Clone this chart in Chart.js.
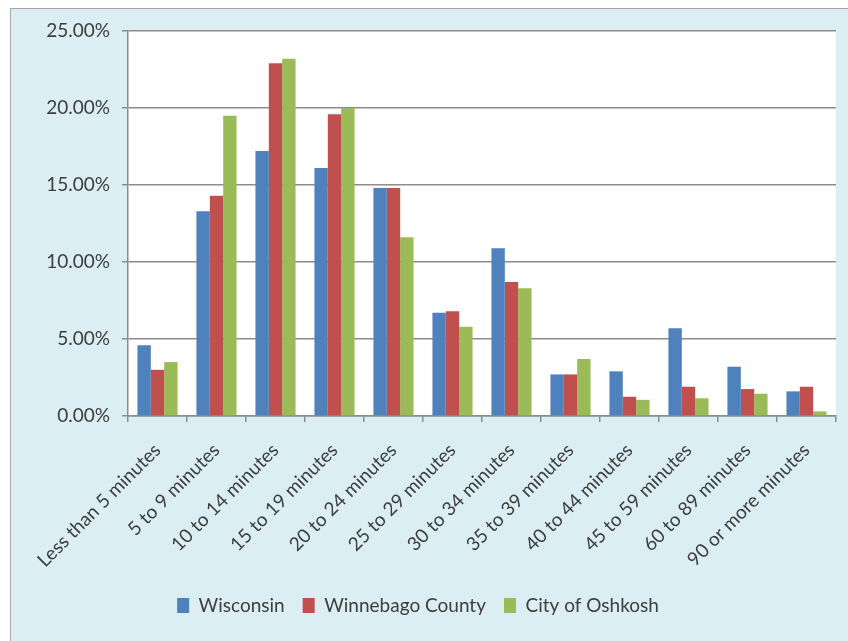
<!DOCTYPE html>
<html>
<head>
<meta charset="utf-8">
<script src="https://cdn.jsdelivr.net/npm/chart.js@4/dist/chart.umd.min.js"></script>
<style>
	html, body { margin: 0; padding: 0; background: #ffffff; }
	#frame {
		position: absolute;
		left: 10px;
		top: 8px;
		width: 860px;
		height: 660px;
		background: #dbeef4;
		border: 1px solid #a6a6a6;
	}
	#wrap { position: absolute; left: 0; top: 0; width: 848px; height: 641px; }
</style>
</head>
<body>
<div id="frame"></div>
<div id="wrap"><canvas id="chart"></canvas></div>
<script>
const categories = [
	'Less than 5 minutes', '5 to 9 minutes', '10 to 14 minutes', '15 to 19 minutes',
	'20 to 24 minutes', '25 to 29 minutes', '30 to 34 minutes', '35 to 39 minutes',
	'40 to 44 minutes', '45 to 59 minutes', '60 to 89 minutes', '90 or more minutes',
];
const wisconsin = [4.6, 13.3, 17.2, 16.1, 14.8, 6.7, 10.9, 2.7, 2.9, 5.7, 3.2, 1.6];
const winnebago = [3.0, 14.3, 22.9, 19.6, 14.8, 6.8, 8.7, 2.7, 1.25, 1.9, 1.75, 1.9];
const oshkosh = [3.5, 19.5, 23.2, 20.0, 11.6, 5.8, 8.3, 3.7, 1.05, 1.15, 1.45, 0.3];
const seriesNames = ['Wisconsin', 'Winnebago County', 'City of Oshkosh'];
const seriesColors = ['#4f81bd', '#c0504d', '#9bbb59'];

const textColor = '#3d3d3d';
const gridColor = '#8c8c8c';
const fontFamily = 'Lato, "Noto Sans", sans-serif';

const plotBackground = {
	id: 'plotBackground',
	beforeDraw(chart) {
		const { ctx, chartArea } = chart;
		ctx.save();
		ctx.fillStyle = '#ffffff';
		ctx.fillRect(chartArea.left, chartArea.top, chartArea.right - chartArea.left, chartArea.bottom - chartArea.top);
		ctx.restore();
	},
};

new Chart(document.getElementById('chart'), {
	type: 'bar',
	data: {
		labels: categories,
		datasets: [wisconsin, winnebago, oshkosh].map((values, i) => ({
			label: seriesNames[i],
			data: values,
			backgroundColor: seriesColors[i],
			borderWidth: 0,
			categoryPercentage: 0.68,
			barPercentage: 1,
		})),
	},
	options: {
		responsive: true,
		maintainAspectRatio: false,
		animation: false,
		layout: { padding: { left: 0, top: 31, right: 12, bottom: 16 } },
		plugins: {
			tooltip: { enabled: false },
			legend: {
				position: 'bottom',
				labels: {
					color: textColor,
					font: { family: fontFamily, size: 19 },
					boxWidth: 12,
					boxHeight: 15,
					padding: 18,
				},
			},
		},
		scales: {
			x: {
				afterFit(scale) { scale.height = 162; },
				grid: {
					drawOnChartArea: false,
					drawTicks: true,
					tickLength: 6,
					color: gridColor,
					lineWidth: 1.5,
				},
				border: { color: gridColor, width: 1.5 },
				ticks: {
					color: textColor,
					font: { family: fontFamily, size: 19 },
					padding: 17,
					minRotation: 45,
					maxRotation: 45,
					autoSkip: false,
				},
			},
			y: {
				min: 0,
				max: 25,
				afterFit(scale) { scale.width = 128; },
				grid: {
					color: gridColor,
					lineWidth: 1.5,
					drawTicks: true,
					tickLength: 6,
				},
				border: { color: gridColor, width: 1.5 },
				ticks: {
					stepSize: 5,
					color: textColor,
					font: { family: fontFamily, size: 19 },
					padding: 12,
					callback: (value) => value.toFixed(2) + '%',
				},
			},
		},
	},
	plugins: [plotBackground],
});
</script>
</body>
</html>
